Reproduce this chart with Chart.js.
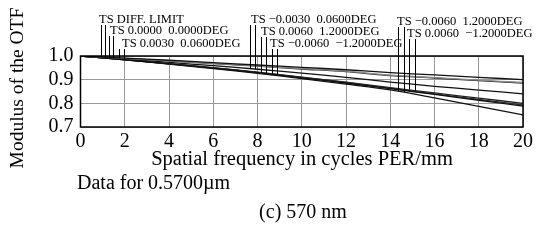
<!DOCTYPE html>
<html>
<head>
<meta charset="utf-8">
<script src="https://cdn.jsdelivr.net/npm/chart.js@4/dist/chart.umd.min.js"></script>
<style>
  html, body { margin: 0; padding: 0; background: #fff; }
  canvas { display: block; }
</style>
</head>
<body>
<canvas id="mtf" width="537" height="252"></canvas>
<script>
// spatial frequency (cycles/mm)
const freqs = [0, 2, 4, 6, 8, 10, 12, 14, 16, 18, 20];

// MTF values
const diffLimit   = [1.000, 0.991, 0.982, 0.972, 0.962, 0.952, 0.942, 0.930, 0.920, 0.910, 0.900];
const onAxis      = [1.000, 0.990, 0.980, 0.969, 0.958, 0.947, 0.936, 0.919, 0.909, 0.898, 0.888];
const fld0030p    = [1.000, 0.990, 0.979, 0.968, 0.957, 0.945, 0.934, 0.917, 0.907, 0.896, 0.886];
const fld0030n    = [1.000, 0.987, 0.973, 0.959, 0.944, 0.928, 0.910, 0.890, 0.872, 0.856, 0.840];
const fld0060p12  = [1.000, 0.984, 0.967, 0.949, 0.930, 0.908, 0.886, 0.862, 0.838, 0.813, 0.788];
const fld0060nn12 = [1.000, 0.985, 0.967, 0.950, 0.931, 0.910, 0.888, 0.864, 0.840, 0.817, 0.793];
const fld0060np12 = [1.000, 0.984, 0.966, 0.947, 0.927, 0.904, 0.881, 0.857, 0.823, 0.787, 0.751];
const fld0060pn12 = [1.000, 0.985, 0.968, 0.951, 0.932, 0.911, 0.889, 0.866, 0.844, 0.822, 0.800];

const seriesLabels = [
  'TS DIFF. LIMIT',
  'TS 0.0000  0.0000DEG',
  'TS 0.0030  0.0600DEG',
  'TS \u22120.0030  0.0600DEG',
  'TS 0.0060  1.2000DEG',
  'TS \u22120.0060  \u22121.2000DEG',
  'TS \u22120.0060  1.2000DEG',
  'TS 0.0060  \u22121.2000DEG'
];
const seriesValues = [diffLimit, onAxis, fld0030p, fld0030n, fld0060p12, fld0060nn12, fld0060np12, fld0060pn12];
const seriesColors = ['#111', '#8a8a8a', '#222', '#111', '#111', '#333', '#111', '#222'];

// frequencies where each label's leader lines meet its curve
const leaderX = [
  [0.93, 1.11], [1.29, 1.47], [1.74, 1.96],
  [7.66, 7.88], [8.15, 8.38], [8.65, 8.87],
  [14.34, 14.62], [14.84, 15.11]
];

const yTicks = [0.7, 0.8, 0.9, 1.0];
const xTicks = [0, 2, 4, 6, 8, 10, 12, 14, 16, 18, 20];

const SERIF = '"Liberation Serif", "Times New Roman", serif';

// label text placement: [left px, baseline px, leader top px]
const labelPos = [
  [99, 23, 25], [110, 34, 36], [122, 47, 49],
  [251, 23, 25], [261, 35, 37], [270, 47, 49],
  [397, 25, 27], [407, 37, 39]
];

function valueAt(vals, x) {
  for (let i = 0; i < freqs.length - 1; i++) {
    if (x >= freqs[i] && x <= freqs[i + 1]) {
      const t = (x - freqs[i]) / (freqs[i + 1] - freqs[i]);
      return vals[i] + t * (vals[i + 1] - vals[i]);
    }
  }
  return vals[vals.length - 1];
}

const decorPlugin = {
  id: 'decor',
  afterDraw(chart) {
    const { ctx, chartArea: a, scales } = chart;
    ctx.save();
    // frame
    ctx.strokeStyle = '#000';
    ctx.lineWidth = 1.5;
    ctx.strokeRect(a.left, a.top, a.right - a.left, a.bottom - a.top);

    // leader lines + labels
    ctx.lineWidth = 1;
    ctx.strokeStyle = '#000';
    ctx.fillStyle = '#000';
    ctx.font = '12.5px ' + SERIF;
    ctx.textBaseline = 'alphabetic';
    ctx.textAlign = 'left';
    seriesLabels.forEach((txt, i) => {
      const [lx, ly, top] = labelPos[i];
      ctx.fillText(txt, lx, ly);
      leaderX[i].forEach(fx => {
        const px = Math.round(scales.x.getPixelForValue(fx)) + 0.5;
        const py = scales.y.getPixelForValue(valueAt(seriesValues[i], fx));
        ctx.beginPath();
        ctx.moveTo(px, top);
        ctx.lineTo(px, py);
        ctx.stroke();
      });
    });

    // axis titles and captions
    ctx.font = '20.5px ' + SERIF;
    ctx.textAlign = 'center';
    ctx.textBaseline = 'middle';
    ctx.fillText('Spatial frequency in cycles PER/mm', 302, 160);
    ctx.save();
    ctx.translate(18, 88);
    ctx.rotate(-Math.PI / 2);
    ctx.font = '19.5px ' + SERIF;
    ctx.fillText('Modulus of the OTF', 0, 0);
    ctx.restore();
    ctx.font = '20px ' + SERIF;
    ctx.textAlign = 'left';
    ctx.fillText('Data for 0.5700\u00b5m', 77, 184);
    ctx.textAlign = 'center';
    ctx.fillText('(c) 570 nm', 303, 213);
    ctx.restore();
  }
};

new Chart(document.getElementById('mtf'), {
  type: 'line',
  data: {
    datasets: seriesValues.map((vals, i) => ({
      label: seriesLabels[i],
      data: freqs.map((f, j) => ({ x: f, y: vals[j] })),
      borderColor: seriesColors[i],
      borderWidth: 1.3,
      pointRadius: 0,
      tension: 0.3,
      fill: false
    }))
  },
  options: {
    responsive: false,
    devicePixelRatio: 1,
    animation: false,
    layout: { padding: { left: 0, top: 56, right: 14, bottom: 0 } },
    plugins: { legend: { display: false }, tooltip: { enabled: false } },
    scales: {
      x: {
        type: 'linear', min: 0, max: 20,
        afterFit: s => { s.height = 125; },
        afterBuildTicks: s => { s.ticks = xTicks.map(v => ({ value: v })); },
        grid: { color: '#9a9a9a', drawTicks: false },
        border: { display: false },
        ticks: { color: '#000', padding: 3, maxRotation: 0, autoSkip: false, font: { family: SERIF, size: 20 } }
      },
      y: {
        min: 0.7, max: 1.0,
        afterFit: s => { s.width = 80.5; },
        afterBuildTicks: s => { s.ticks = yTicks.map(v => ({ value: v })); },
        grid: { color: '#9a9a9a', drawTicks: false },
        border: { display: false },
        ticks: {
          color: '#000', padding: 7, autoSkip: false, font: { family: SERIF, size: 20 },
          callback: v => Number(v).toFixed(1)
        }
      }
    }
  },
  plugins: [decorPlugin]
});
</script>
</body>
</html>
